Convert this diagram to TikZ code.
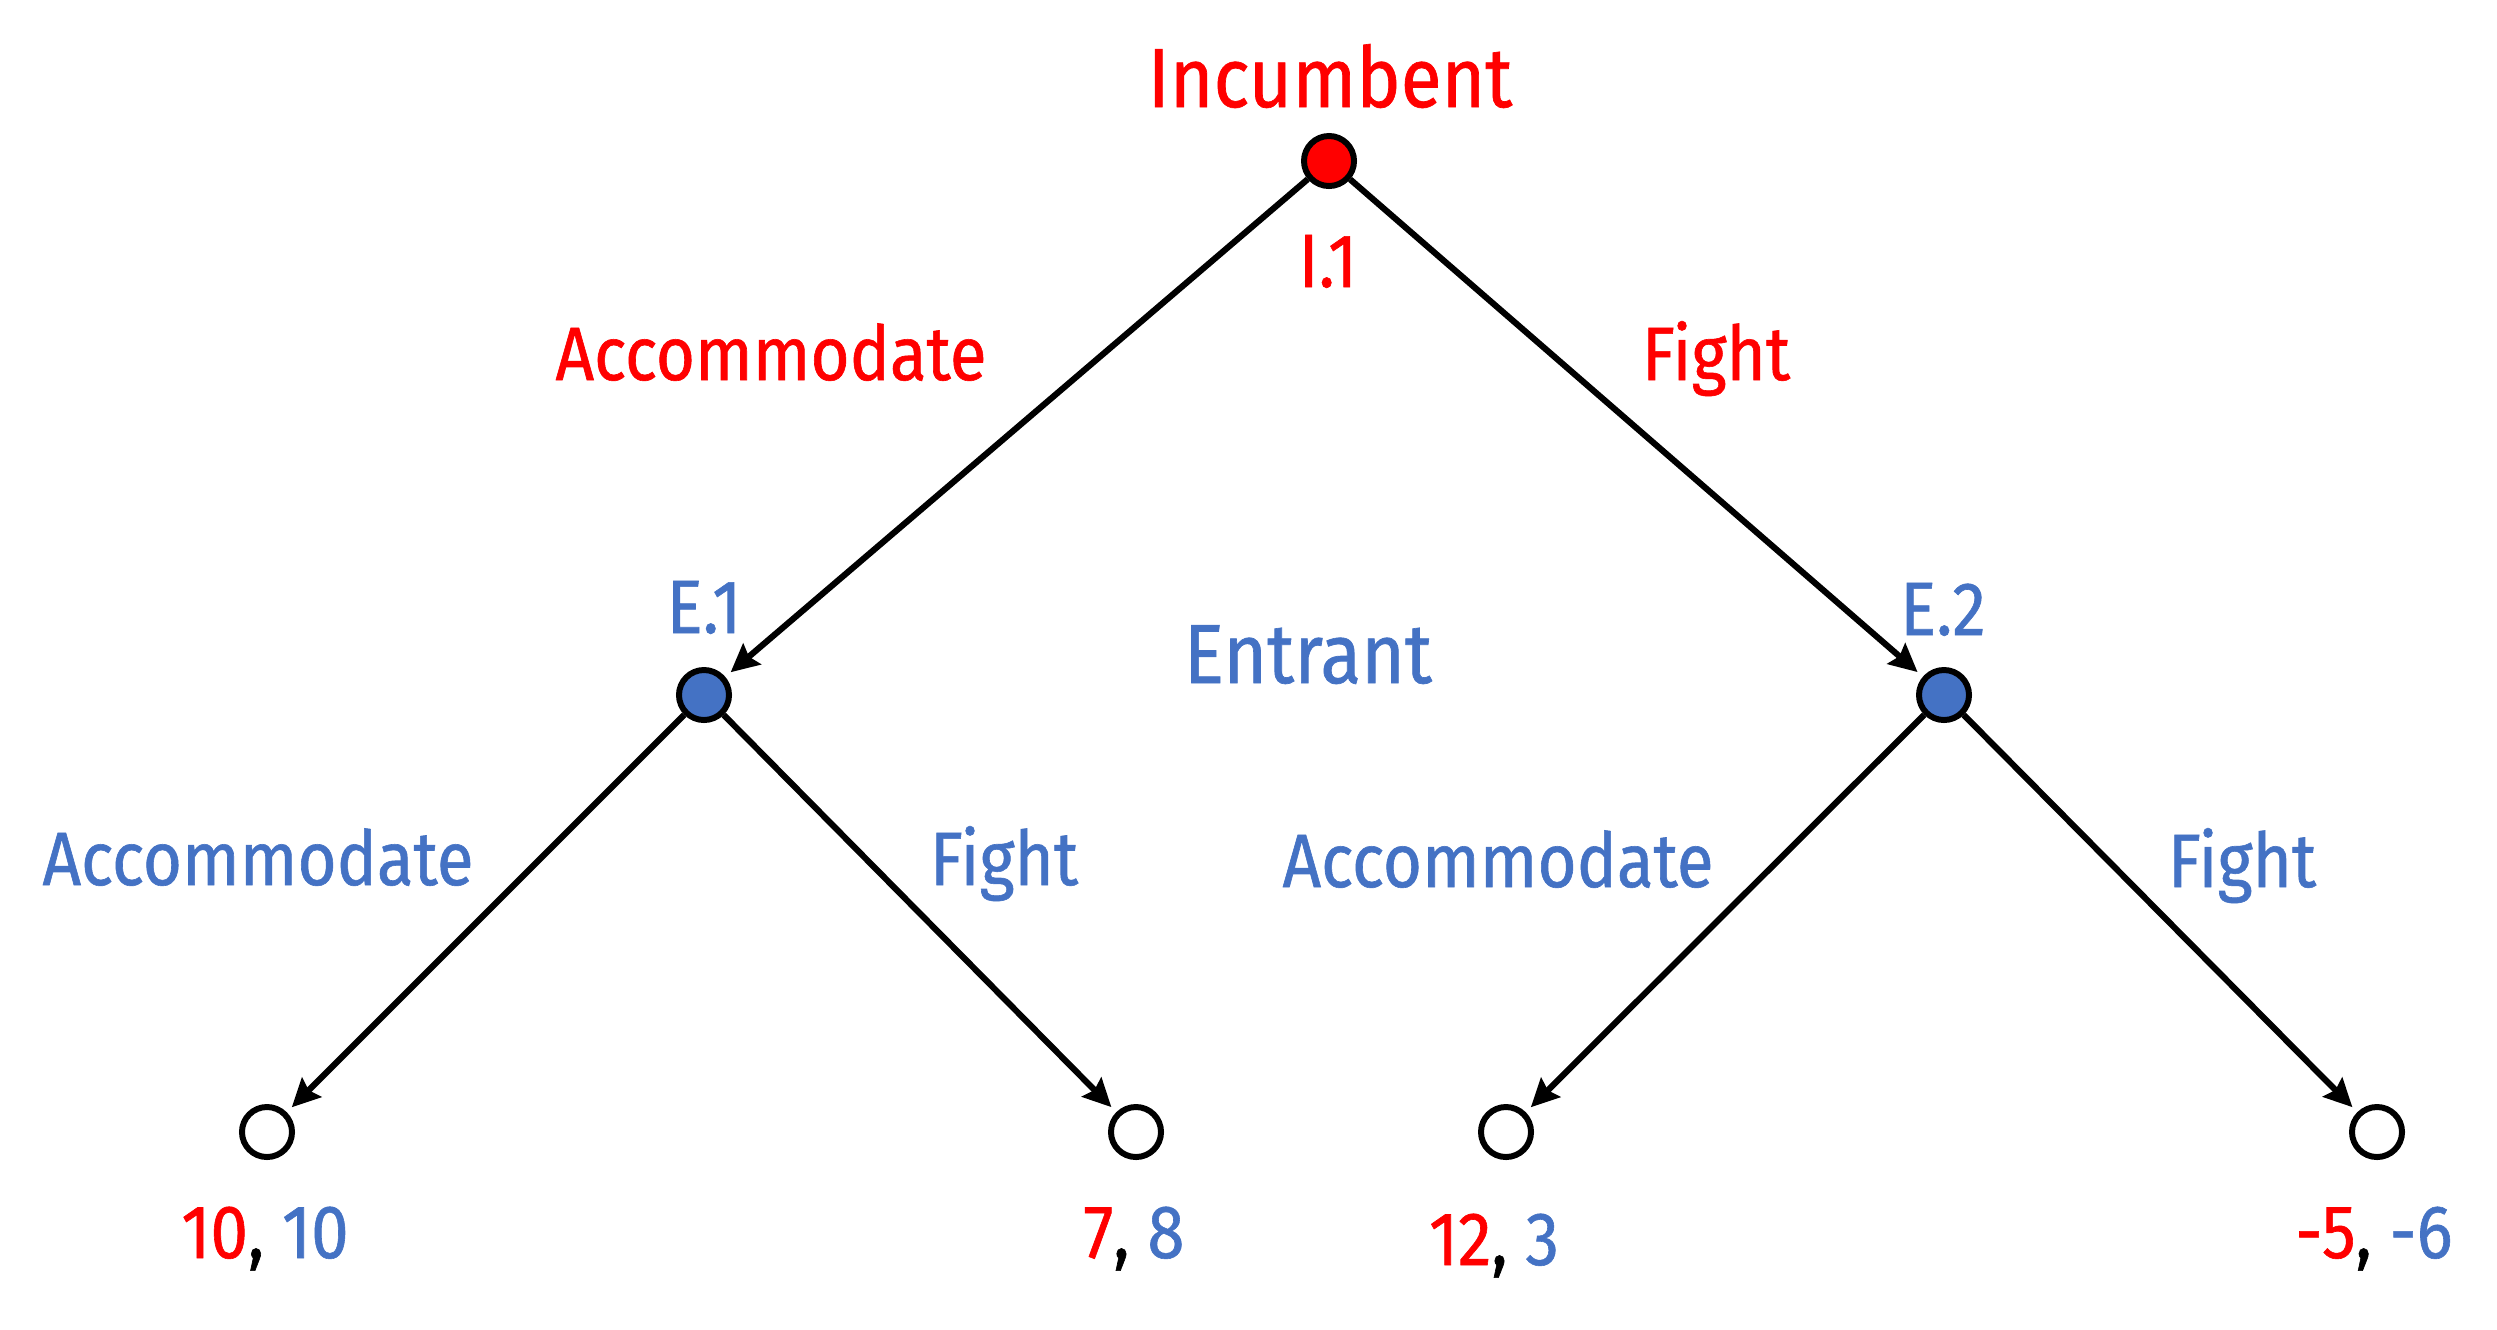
\documentclass[tikz,border=0pt]{standalone}
\usepackage{fontspec}
\setmainfont{Fira Sans}[FakeStretch=0.89,FakeBold=0.8]
\usetikzlibrary{arrows.meta}
\definecolor{pred}{HTML}{FF0000}
\definecolor{pblue}{HTML}{4472C4}
\begin{document}
\begin{tikzpicture}[x=0.01cm,y=-0.01cm,
  dec/.style={circle,draw=black,line width=1.7pt,minimum size=0.5cm,inner sep=0pt},
  leaf/.style={dec,fill=white},
  big/.style={anchor=base,inner sep=0pt,font=\fontsize{23.9}{26}\selectfont},
  lab/.style={anchor=base,inner sep=0pt,font=\fontsize{21.5}{24}\selectfont},
  move/.style={line width=1.75pt,-{Stealth[length=0.28cm,width=0.27cm,inset=0.04cm]},shorten >=0.07cm}
]
\path[use as bounding box] (0,0) rectangle (2497,1329);
% decision nodes
\node[dec,fill=pred] (I1) at (1329,161) {};
\node[dec,fill=pblue] (E1) at (704,695) {};
\node[dec,fill=pblue] (E2) at (1944,695) {};
% terminal nodes
\node[leaf] (L1) at (267,1132) {};
\node[leaf] (L2) at (1136,1132) {};
\node[leaf] (L3) at (1506,1132) {};
\node[leaf] (L4) at (2377,1132) {};
% edges
\draw[move] (I1) -- (E1);
\draw[move] (I1) -- (E2);
\draw[move] (E1) -- (L1);
\draw[move] (E1) -- (L2);
\draw[move] (E2) -- (L3);
\draw[move] (E2) -- (L4);
% labels
\node[big,text=pred] (tInc) at (1330,107) {Incumbent};
\node[lab,text=pred] (tI1) at (1328,287) {I.1};
\node[lab,text=pred] (tA0) at (771,380) {Accommodate};
\node[lab,text=pred] (tF0) at (1716,380) {Fight};
\node[lab,text=pblue] (tE1) at (704,633) {E.1};
\node[lab,text=pblue] (tE2) at (1943,635) {E.2};
\node[big,text=pblue] (tEnt) at (1308,683) {Entrant};
\node[lab,text=pblue] (tA1) at (258,885) {Accommodate};
\node[lab,text=pblue] (tF1) at (1004,885) {Fight};
\node[lab,text=pblue] (tA2) at (1498,887) {Accommodate};
\node[lab,text=pblue] (tF2) at (2242,887) {Fight};
% payoffs
\node[lab] (p1) at (265,1258) {\textcolor{pred}{10}, \textcolor{pblue}{10}};
\node[lab] (p2) at (1134,1258) {\textcolor{pred}{7}, \textcolor{pblue}{8}};
\node[lab] (p3) at (1494,1265) {\textcolor{pred}{12}, \textcolor{pblue}{3}};
\node[lab] (p4) at (2374,1258) {\textcolor{pred}{-5}, \textcolor{pblue}{-6}};
\end{tikzpicture}
\end{document}
